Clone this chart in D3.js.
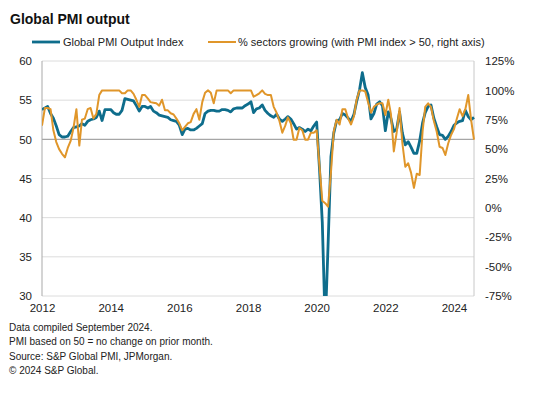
<!DOCTYPE html>
<html>
<head>
<meta charset="utf-8">
<script src="https://cdn.jsdelivr.net/npm/d3@7"></script>
<style>
  html, body { margin: 0; padding: 0; background: #fff; }
  svg { display: block; font-family: "Liberation Sans", Arial, sans-serif; }
</style>
</head>
<body>
<svg id="chart" width="545" height="395"></svg>
<script>
// ---- Data ----
const startMonth = "2012-01";
const pmiOutput = [
  53.8,54.0,54.2,53.3,52.7,51.7,50.6,50.3,50.3,50.4,51.0,51.5,
  51.6,51.7,52.0,51.8,52.3,52.5,52.6,52.8,53.6,52.4,53.8,53.8,
  53.8,53.4,53.2,53.2,53.7,55.2,55.1,55.0,54.9,54.3,53.6,54.2,
  54.2,54.0,54.2,53.6,53.4,53.1,53.0,52.9,52.8,52.5,52.4,52.3,
  51.8,50.6,51.3,51.4,51.2,51.2,51.4,51.7,52.0,53.3,53.6,53.7,
  53.7,53.6,53.6,53.8,53.8,53.7,53.5,53.9,54.0,54.0,54.0,54.3,
  54.5,54.8,53.4,53.9,54.0,54.4,53.7,53.3,53.0,52.8,53.2,52.6,
  52.3,52.6,52.9,52.6,52.0,51.3,51.5,51.3,51.0,51.3,51.1,51.7,
  52.2,46.1,39.4,26.2,36.3,47.8,50.8,52.4,52.5,53.3,53.1,52.7,
  52.3,53.2,54.8,56.3,58.5,56.6,55.7,52.6,53.3,54.5,54.8,54.3,
  51.1,53.5,52.7,51.0,51.3,53.5,50.8,49.3,49.7,49.0,48.2,48.2,
  49.8,52.1,53.4,54.2,54.4,52.7,51.6,50.6,50.5,50.0,50.4,51.0,
  51.8,52.1,52.3,52.4,53.7,52.9,52.5,52.8
];
const sectorsGrowing = [
  70,85,85,84,66,56,50,46,43,51,57,68,
  84,53,75,76,84,85,76,80,96,100,100,100,
  100,100,100,100,97.5,97.5,100,100,97,92,86,96,
  96,93,90,89.5,89,87,92,83,83,80.5,79.5,76,
  72,66,69,72,73,80,84,75,90,98,100,98,
  89,100,100,100,100,100,97.5,100,100,100,100,100,
  100,100,94.6,96,97.5,100,97,96,96,86,81,74,
  64,70,77,72,58,58,68,66,58,58,64,64,
  66,35,6,4,1,30,65,75,71,84,84,76,
  71,78,92,100,100,99,90,81,86,88,89,89,
  79,92,80,48,64,85,55,35,38,30,17,29,
  28,65,86,89,86,74,65,52,51,45,55,62,
  67,76,84,78,84,96,75,58
];
const leftTicks = [30, 35, 40, 45, 50, 55, 60];
const rightTicks = [-75, -50, -25, 0, 25, 50, 75, 100, 125];
const xTickYears = [2012, 2014, 2016, 2018, 2020, 2022, 2024];
const seriesNames = ["Global PMI Output Index", "% sectors growing (with PMI index > 50, right axis)"];
const title = "Global PMI output";
const notes = [
  "Data compiled September 2024.",
  "PMI based on 50 = no change on prior month.",
  "Source: S&P Global PMI, JPMorgan.",
  "\u00A9 2024 S&P Global."
];

// ---- Layout ----
const colBlue = "#0e6d8c", colOrange = "#e0962a";
const plot = { left: 42, right: 474, top: 61, bottom: 296 };
const parse = d3.timeParse("%Y-%m");
const t0 = parse(startMonth);
const dates = pmiOutput.map((d, i) => d3.timeMonth.offset(t0, i));

const x = d3.scaleTime().domain([dates[0], dates[dates.length - 1]]).range([plot.left, plot.right]);
const yL = d3.scaleLinear().domain([30, 60]).range([plot.bottom, plot.top]);
const yR = d3.scaleLinear().domain([-75, 125]).range([plot.bottom, plot.top]);

const svg = d3.select("#chart");

svg.append("text").attr("x", 10).attr("y", 23.5)
  .attr("font-size", 14).attr("font-weight", "bold").attr("fill", "#111").text(title);

// legend
const leg = svg.append("g");
[[32, 60, 63, colBlue, 2.8], [208, 236, 238, colOrange, 2]].forEach((L, i) => {
  leg.append("line").attr("x1", L[0]).attr("x2", L[1]).attr("y1", 42).attr("y2", 42)
    .attr("stroke", L[3]).attr("stroke-width", L[4]);
  leg.append("text").attr("x", L[2]).attr("y", 46).attr("font-size", 11).attr("fill", "#222").text(seriesNames[i]);
});

// gridlines
svg.append("g").selectAll("line").data(leftTicks.filter(v => v !== 50)).join("line")
  .attr("x1", plot.left).attr("x2", plot.right)
  .attr("y1", d => yL(d)).attr("y2", d => yL(d))
  .attr("stroke", "#dcdcdc").attr("stroke-width", 1);

// vertical axis lines
svg.append("line").attr("x1", plot.left).attr("x2", plot.left).attr("y1", plot.top).attr("y2", plot.bottom)
  .attr("stroke", "#a9a9a9").attr("stroke-width", 1);
svg.append("line").attr("x1", plot.right).attr("x2", plot.right).attr("y1", plot.top).attr("y2", plot.bottom)
  .attr("stroke", "#c8c8c8").attr("stroke-width", 1);

// 50 line
svg.append("line").attr("x1", plot.left).attr("x2", plot.right).attr("y1", yL(50)).attr("y2", yL(50))
  .attr("stroke", "#a6a6a6").attr("stroke-width", 1.4);

// axes (custom styled)
const axL = svg.append("g").attr("transform", `translate(${plot.left - 10},0)`)
  .call(d3.axisLeft(yL).tickValues(leftTicks).tickSize(0).tickPadding(0));
const axR = svg.append("g").attr("transform", `translate(${plot.right + 11},0)`)
  .call(d3.axisRight(yR).tickValues(rightTicks).tickSize(0).tickPadding(0).tickFormat(d => d + "%"));
const axB = svg.append("g").attr("transform", `translate(0,${plot.bottom + 8})`)
  .call(d3.axisBottom(x).tickValues(xTickYears.map(yv => new Date(yv, 0, 1))).tickSize(0).tickPadding(0)
    .tickFormat(d3.timeFormat("%Y")));
[axL, axR, axB].forEach(a => {
  a.select(".domain").remove();
  a.selectAll("text").attr("font-size", 11.5).attr("fill", "#222")
    .attr("font-family", "'Liberation Sans', Arial, sans-serif");
});

// clip
svg.append("clipPath").attr("id", "clip").append("rect")
  .attr("x", plot.left).attr("y", plot.top - 5).attr("width", plot.right - plot.left + 1).attr("height", plot.bottom - plot.top + 5);

const lineL = d3.line().x((d, i) => x(dates[i])).y(d => yL(d));
const lineR = d3.line().x((d, i) => x(dates[i])).y(d => yR(d));

const g = svg.append("g").attr("clip-path", "url(#clip)");
g.append("path").datum(pmiOutput).attr("d", lineL).attr("fill", "none")
  .attr("stroke", colBlue).attr("stroke-width", 2.8).attr("stroke-linejoin", "round");
g.append("path").datum(sectorsGrowing).attr("d", lineR).attr("fill", "none")
  .attr("stroke", colOrange).attr("stroke-width", 2).attr("stroke-linejoin", "round");

// notes
svg.append("g").selectAll("text").data(notes).join("text")
  .attr("x", 9).attr("y", (d, i) => 331 + i * 14.3)
  .attr("font-size", 10).attr("fill", "#222").text(d => d);
</script>
</body>
</html>
